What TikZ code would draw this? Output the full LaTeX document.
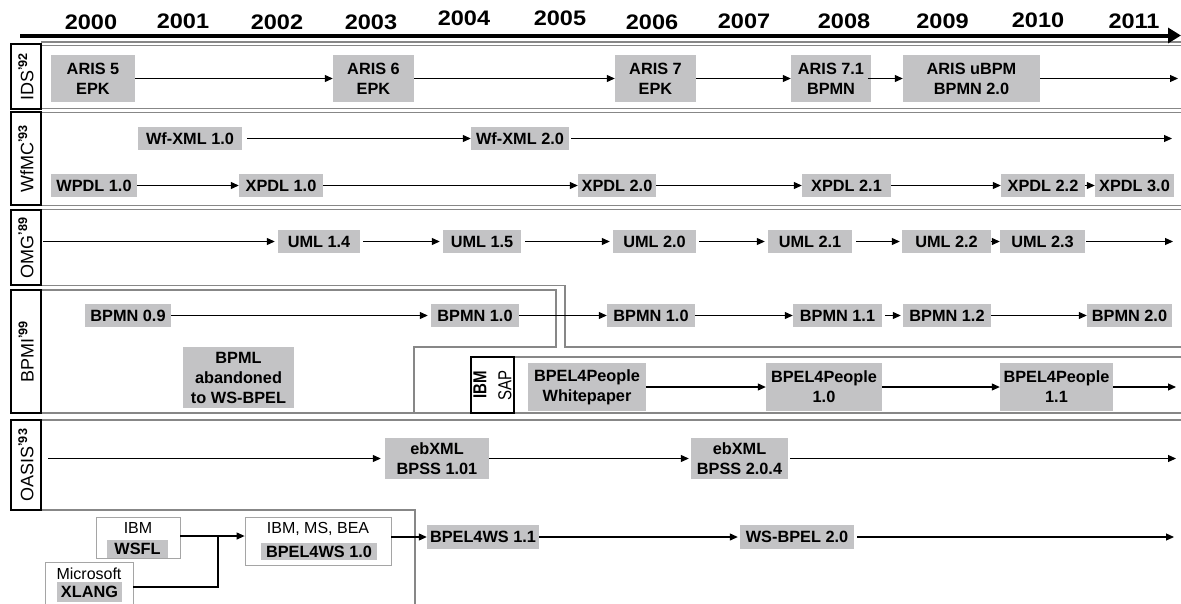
\documentclass[tikz,border=0pt]{standalone}
\usepackage{fontspec}
\setmainfont{Liberation Sans}
\usetikzlibrary{arrows.meta}
\definecolor{boxgray}{RGB}{195,195,197}
\definecolor{lanegray}{RGB}{135,135,135}
\definecolor{framegray}{RGB}{165,165,165}
\begin{document}
\begin{tikzpicture}[x=1pt,y=-1pt,
  ver/.style={fill=boxgray, inner sep=0pt, align=center, font=\bfseries\fontsize{16.3}{20}\selectfont},
  arr/.style={line width=1.1pt, -{Triangle[length=8pt,width=7pt]}},
  conn/.style={line width=1.1pt},
  lane/.style={draw=lanegray, line width=1.4pt},
  lanebox/.style={draw=black, fill=white, line width=2pt, inner sep=0pt, minimum height=30pt, rotate=90, font=\fontsize{18}{20}\selectfont},
  year/.style={font=\bfseries\fontsize{21}{23}\selectfont, inner sep=0pt},
  org/.style={draw=framegray, line width=0.8pt, fill=white, inner sep=0pt},
  plaintxt/.style={inner sep=0pt, font=\fontsize{16}{18}\selectfont},
]
\useasboundingbox (0,0) rectangle (1181,603);
\fill[white] (0,0) rectangle (1181,603);

% ---------- lanes ----------
\draw[lane] (41,42) -- (1181,42);
\draw[lane] (41,45.5) rectangle (1183,108.5);
\draw[lane] (41,112.5) rectangle (1183,205.5);
\draw[lane] (1183,209.5) -- (41,209.5) -- (41,285.5) -- (565,285.5) -- (565,347) -- (1183,347);
\draw[lane] (41,290) -- (556,290) -- (556,347) -- (414,347) -- (414,413);
\draw[lane] (41,413) -- (1183,413);
\draw[lane] (514,357) -- (1183,357);
\draw[lane] (1183,420) -- (41,420) -- (41,510) -- (415,510) -- (415,606);

% ---------- timeline ----------
\coordinate (t0) at (20,35.5);
\coordinate (t1) at (1181,35.5);
\draw[line width=4pt, -{Triangle[length=13pt,width=15pt]}] (t0) -- (t1);
\foreach \yr/\xx/\yy in {2000/91/22, 2001/183/21, 2002/277/22, 2003/371/22, 2004/464/18.5, 2005/560/18.5, 2006/652/22.5, 2007/744/21.5, 2008/844/21, 2009/942.5/21, 2010/1038/20.5, 2011/1134/21}
  \node[year] (y\yr) at (\xx,\yy) {\scalebox{1.12}[1]{\yr}};

% ---------- lane labels ----------
\node[lanebox, minimum width=65pt] (lids) at (26,76.5) {IDS\textsuperscript{\bfseries '92}};
\node[lanebox, minimum width=93pt] (lwfmc) at (26,158.5) {WfMC\textsuperscript{\bfseries '93}};
\node[lanebox, minimum width=75pt] (lomg) at (26,247.5) {OMG\textsuperscript{\bfseries '89}};
\node[lanebox, minimum width=123pt] (lbpmi) at (26,351.5) {BPMI\textsuperscript{\bfseries '99}};
\node[lanebox, minimum width=90pt] (loasis) at (26,465) {OASIS\textsuperscript{\bfseries '93}};

% ---------- IDS ----------
\node[ver, minimum width=84pt, minimum height=47pt] (a5) at (93,78.5) {ARIS 5\\EPK};
\node[ver, minimum width=81pt, minimum height=47pt] (a6) at (373.5,78.5) {ARIS 6\\EPK};
\node[ver, minimum width=81pt, minimum height=47pt] (a7) at (655.5,78.5) {ARIS 7\\EPK};
\node[ver, minimum width=80pt, minimum height=47pt] (a71) at (831,78.5) {ARIS 7.1\\BPMN};
\node[ver, minimum width=137pt, minimum height=47pt] (aub) at (971.5,78.5) {ARIS uBPM\\BPMN 2.0};
\coordinate (eids) at (1178,78.5);
\draw[arr] (a5) -- (a6);
\draw[arr] (a6) -- (a7);
\draw[arr] (a7) -- (a71);
\draw[arr, shorten <=-3pt] (a71) -- (aub);
\draw[arr] (aub) -- (eids);

% ---------- WfMC ----------
\node[ver, minimum width=104pt, minimum height=23pt] (wx1) at (190,138.5) {Wf-XML 1.0};
\node[ver, minimum width=98pt, minimum height=23pt] (wx2) at (520,138.5) {Wf-XML 2.0};
\coordinate (ewx) at (1172,138.5);
\draw[arr, shorten <=5pt] (wx1) -- (wx2);
\draw[arr, shorten <=2pt] (wx2) -- (ewx);

\node[ver, minimum width=86pt, minimum height=23pt] (wp1) at (94,185.5) {WPDL 1.0};
\node[ver, minimum width=84pt, minimum height=23pt] (xp1) at (281,185.5) {XPDL 1.0};
\node[ver, minimum width=78pt, minimum height=23pt] (xp20) at (617,185.5) {XPDL 2.0};
\node[ver, minimum width=89pt, minimum height=23pt] (xp21) at (846.5,185.5) {XPDL 2.1};
\node[ver, minimum width=84pt, minimum height=23pt] (xp22) at (1043,185.5) {XPDL 2.2};
\node[ver, minimum width=79pt, minimum height=23pt] (xp30) at (1134.5,185.5) {XPDL 3.0};
\draw[arr] (wp1) -- (xp1);
\draw[arr] (xp1) -- (xp20);
\draw[arr] (xp20) -- (xp21);
\draw[arr] (xp21) -- (xp22);
\draw[arr] (xp22) -- (xp30);

% ---------- OMG ----------
\coordinate (somg) at (43,241.5);
\node[ver, minimum width=82pt, minimum height=23pt] (u14) at (319,241.5) {UML 1.4};
\node[ver, minimum width=78pt, minimum height=23pt] (u15) at (482,241.5) {UML 1.5};
\node[ver, minimum width=83pt, minimum height=23pt] (u20) at (654.5,241.5) {UML 2.0};
\node[ver, minimum width=84pt, minimum height=23pt] (u21) at (810,241.5) {UML 2.1};
\node[ver, minimum width=89pt, minimum height=23pt] (u22) at (946.5,241.5) {UML 2.2};
\node[ver, minimum width=85pt, minimum height=23pt] (u23) at (1042.5,241.5) {UML 2.3};
\coordinate (eomg) at (1173,241.5);
\draw[arr, shorten >=3pt] (somg) -- (u14);
\draw[arr, shorten <=3pt, shorten >=3pt] (u14) -- (u15);
\draw[arr, shorten <=4pt, shorten >=3pt] (u15) -- (u20);
\draw[arr, shorten <=3pt, shorten >=3pt] (u20) -- (u21);
\draw[arr, shorten <=4pt, shorten >=2pt] (u21) -- (u22);
\draw[arr] (u22) -- (u23);
\draw[arr, shorten <=1pt] (u23) -- (eomg);

% ---------- BPMI / BPMN ----------
\node[ver, minimum width=86pt, minimum height=23pt] (b09) at (128,315.5) {BPMN 0.9};
\node[ver, minimum width=88pt, minimum height=23pt] (b10a) at (475,315.5) {BPMN 1.0};
\node[ver, minimum width=88pt, minimum height=23pt] (b10b) at (651,315.5) {BPMN 1.0};
\node[ver, minimum width=89pt, minimum height=23pt] (b11) at (837.5,315.5) {BPMN 1.1};
\node[ver, minimum width=88pt, minimum height=23pt] (b12) at (947,315.5) {BPMN 1.2};
\node[ver, minimum width=85pt, minimum height=23pt] (b20) at (1129.5,315.5) {BPMN 2.0};
\draw[arr, shorten >=3pt] (b09) -- (b10a);
\draw[arr] (b10a) -- (b10b);
\draw[arr] (b10b) -- (b11);
\draw[arr, shorten <=3pt, shorten >=2pt] (b11) -- (b12);
\draw[arr] (b12) -- (b20);

\node[ver, minimum width=111pt, minimum height=61pt] (bpml) at (238.5,377.5) {BPML\\abandoned\\to WS-BPEL};

% ---------- IBM / SAP ----------
\node[draw=black, fill=white, line width=1.8pt, rotate=90, minimum width=56pt, minimum height=43pt, inner sep=0pt, align=center, font=\fontsize{15}{25}\selectfont] (ibmsap) at (492.5,385) {\scalebox{1}[1.25]{\bfseries IBM}\\\scalebox{1}[1.25]{SAP}};
\node[ver, minimum width=118pt, minimum height=48pt] (bp0) at (587,387) {BPEL4People\\Whitepaper};
\node[ver, minimum width=116pt, minimum height=48pt] (bp1) at (824,387) {BPEL4People\\1.0};
\node[ver, minimum width=113pt, minimum height=48pt] (bp11) at (1056.5,387) {BPEL4People\\1.1};
\coordinate (ebp) at (1176,387);
\draw[arr] (bp0) -- (bp1);
\draw[arr] (bp1) -- (bp11);
\draw[arr] (bp11) -- (ebp);

% ---------- OASIS ----------
\coordinate (soasis) at (48,458.5);
\node[ver, minimum width=104pt, minimum height=41pt] (eb1) at (437,458.5) {ebXML\\BPSS 1.01};
\node[ver, minimum width=97pt, minimum height=41pt] (eb2) at (739.5,458.5) {ebXML\\BPSS 2.0.4};
\coordinate (eoasis) at (1176,458.5);
\draw[arr, shorten >=4pt] (soasis) -- (eb1);
\draw[arr, shorten >=2pt] (eb1) -- (eb2);
\draw[arr, shorten <=2pt] (eb2) -- (eoasis);

\node[ver, minimum width=112pt, minimum height=24pt] (bw4) at (483,537) {BPEL4WS 1.1};
\node[ver, minimum width=114pt, minimum height=24pt] (wsb) at (797,537) {WS-BPEL 2.0};
\coordinate (ews) at (1174,537);
\draw[arr, shorten >=2pt] (bw4) -- (wsb);
\draw[arr, shorten <=3pt] (wsb) -- (ews);

% ---------- IBM / Microsoft / BEA ----------
\node[org, minimum width=84pt, minimum height=41pt] (wsflbox) at (138,537.5) {};
\node[plaintxt] (ibmt) at (138,528) {IBM};
\node[ver, minimum width=61pt, minimum height=18pt] (wsfl) at (137.5,548.5) {WSFL};

\node[org, minimum width=88pt, minimum height=50pt] (xlangbox) at (89,587) {};
\node[plaintxt] (mst) at (89,574) {Microsoft};
\node[ver, minimum width=65pt, minimum height=20pt] (xlang) at (89.5,592) {XLANG};

\node[org, minimum width=146pt, minimum height=48pt] (bpelbox) at (318,541) {};
\node[plaintxt] (imbt) at (318,528.5) {IBM, MS, BEA};
\node[ver, minimum width=116pt, minimum height=17pt] (bw10) at (319,551.5) {BPEL4WS 1.0};

\coordinate (j) at (218,536);
\draw[conn] (wsflbox.east |- j) -- (j);
\draw[conn] (xlangbox.east) -| (j);
\draw[arr] (j) -- (bpelbox.west |- j);
\draw[arr] (bpelbox.east |- bw4) -- (bw4.west);
\end{tikzpicture}
\end{document}
